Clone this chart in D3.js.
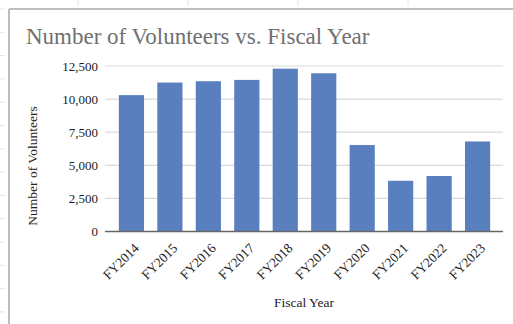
<!DOCTYPE html>
<html>
<head>
<meta charset="utf-8">
<script src="https://cdn.jsdelivr.net/npm/d3@7"></script>
<style>
html,body{margin:0;padding:0;background:#fff;}
svg{display:block;}
text{font-family:"Liberation Serif","DejaVu Serif",serif;}
</style>
</head>
<body>
<svg id="chart" width="513" height="324"></svg>
<script>
const categories = ["FY2014","FY2015","FY2016","FY2017","FY2018","FY2019","FY2020","FY2021","FY2022","FY2023"];
const volunteers = [10300, 11250, 11350, 11450, 12300, 11950, 6530, 3830, 4190, 6800];
const yTicks = [0, 2500, 5000, 7500, 10000, 12500];
const titleText = "Number of Volunteers vs. Fiscal Year";
const xTitle = "Fiscal Year";
const yTitle = "Number of Volunteers";

const svg = d3.select("#chart");
const W = 513, H = 324;

// spreadsheet background marks
const sheet = svg.append("g");
d3.range(9, H, 23.3).forEach(y => sheet.append("line").attr("x1",0).attr("x2",5).attr("y1",y).attr("y2",y).attr("stroke","#e4e4e4"));
d3.range(78, W, 110).forEach(x => sheet.append("line").attr("x1",x).attr("x2",x).attr("y1",0).attr("y2",6).attr("stroke","#e4e4e4"));

// chart frame
svg.append("line").attr("x1",9).attr("x2",W).attr("y1",9).attr("y2",9).attr("stroke","#bdbdbd").attr("stroke-width",2);
svg.append("line").attr("x1",9).attr("x2",9).attr("y1",9).attr("y2",H).attr("stroke","#bdbdbd").attr("stroke-width",2);

const plotLeft = 105, plotRight = 503;
const x = d3.scaleBand().domain(categories).range([112.3, 496.7]).paddingInner(0.345).paddingOuter(0.17);
const y = d3.scaleLinear().domain([0, 12500]).range([231.5, 66]);

// gridlines
svg.append("g").selectAll("line").data(yTicks.filter(d => d > 0)).join("line")
  .attr("x1", plotLeft).attr("x2", plotRight)
  .attr("y1", d => y(d)).attr("y2", d => y(d))
  .attr("stroke", "#d9d9d9").attr("stroke-width", 1.2);

// y axis labels
const yAxis = d3.axisLeft(y).tickValues(yTicks).tickFormat(d3.format(",")).tickSize(0).tickPadding(0);
const yg = svg.append("g").attr("transform", `translate(98,0)`).call(yAxis);
yg.select(".domain").remove();
yg.selectAll("text").attr("font-size", 13).attr("fill", "#222").attr("font-family", '"Liberation Serif",serif');

// bars
svg.append("g").selectAll("rect").data(categories).join("rect")
  .attr("x", d => x(d))
  .attr("width", x.bandwidth())
  .attr("y", (d, i) => y(volunteers[i]))
  .attr("height", (d, i) => y(0) - y(volunteers[i]))
  .attr("fill", "#5a7fbe");

// zero axis line
svg.append("line").attr("x1", plotLeft).attr("x2", plotRight).attr("y1", y(0)).attr("y2", y(0))
  .attr("stroke", "#666").attr("stroke-width", 1.3);

// x axis labels
const xAxis = d3.axisBottom(x).tickSize(0).tickPadding(0);
const xg = svg.append("g").attr("transform", `translate(0,${y(0)})`).call(xAxis);
xg.select(".domain").remove();
xg.selectAll("text")
  .attr("font-size", 13.5).attr("fill", "#222").attr("font-family", '"Liberation Serif",serif')
  .attr("text-anchor", "end")
  .attr("dy", "0.35em").attr("y", 0)
  .attr("transform", "translate(5,14) rotate(-45)");

// titles
svg.append("text").attr("x", 26).attr("y", 44).attr("font-size", 23).attr("fill", "#707070").text(titleText);
svg.append("text").attr("x", (plotLeft + plotRight) / 2).attr("y", 307).attr("text-anchor", "middle")
  .attr("font-size", 13.5).attr("fill", "#222").text(xTitle);
svg.append("text").attr("transform", `translate(37,166) rotate(-90)`).attr("text-anchor", "middle")
  .attr("font-size", 13.5).attr("fill", "#222").text(yTitle);
</script>
</body>
</html>
